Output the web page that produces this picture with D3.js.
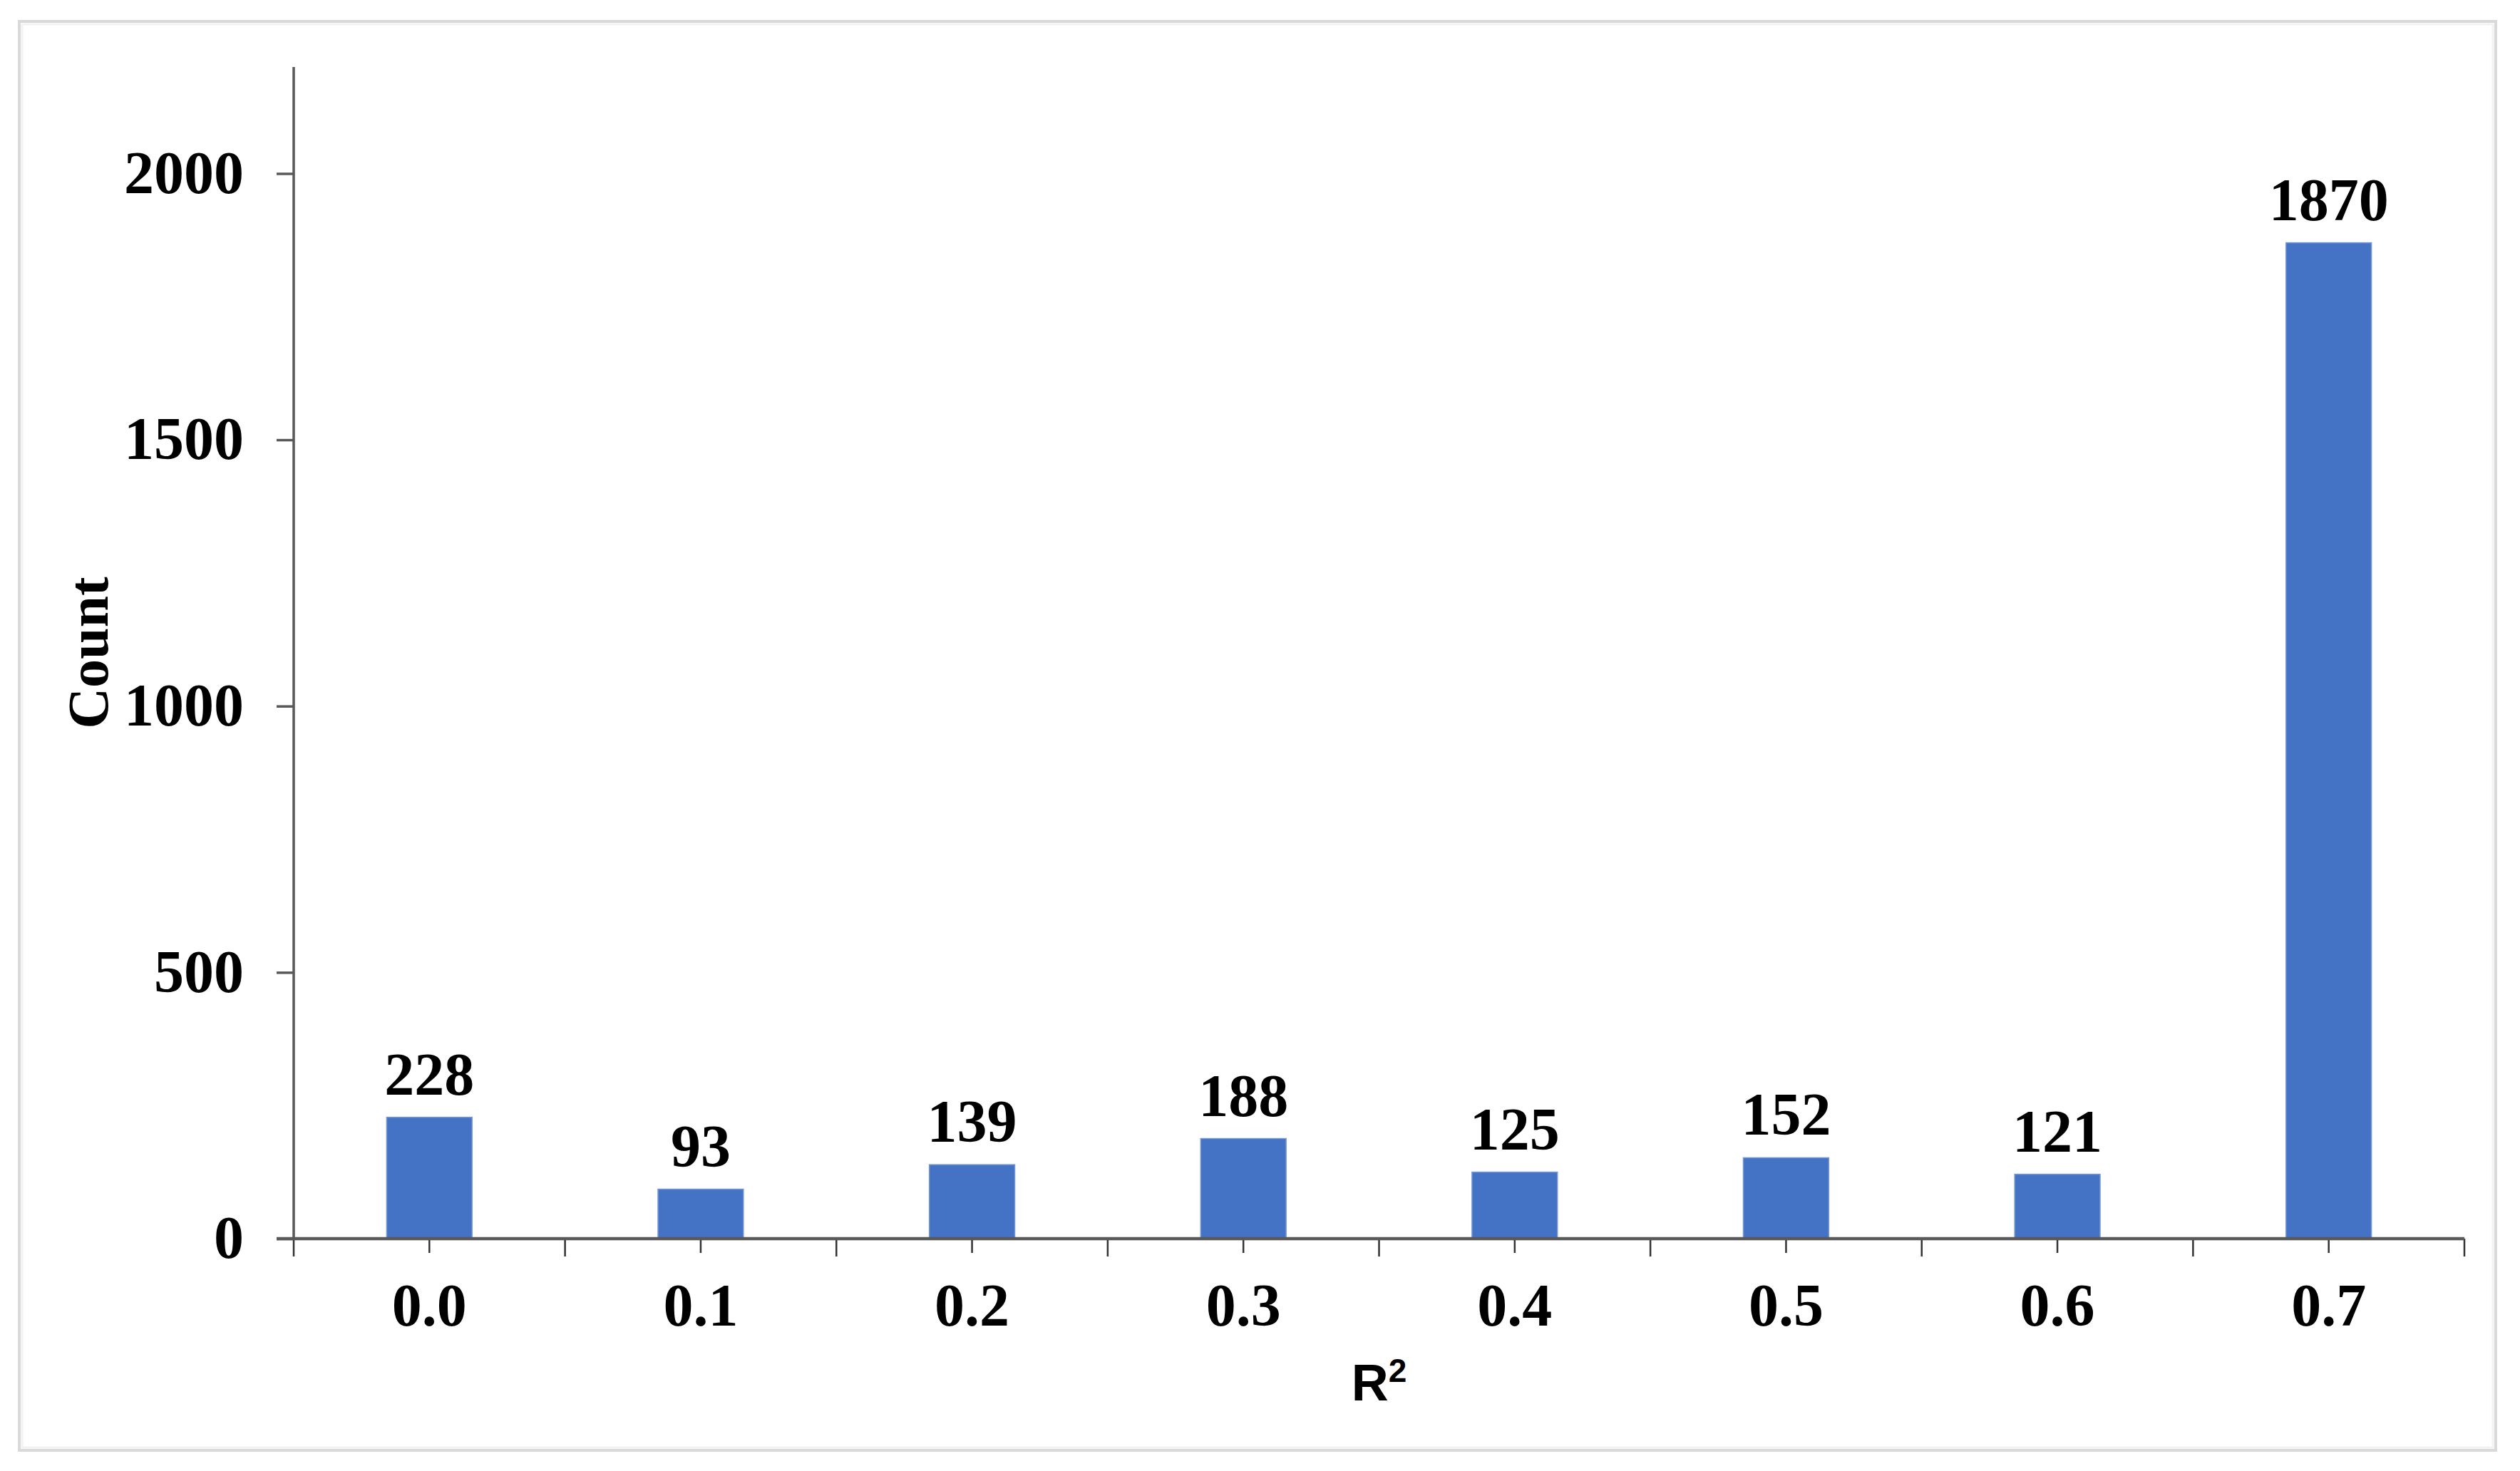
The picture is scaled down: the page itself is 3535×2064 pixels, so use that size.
<!DOCTYPE html>
<html>
<head>
<meta charset="utf-8">
<script src="https://cdn.jsdelivr.net/npm/d3@7"></script>
<style>
  html, body { margin: 0; padding: 0; background: #ffffff; }
  svg { display: block; }
</style>
</head>
<body>
<script>
const categories = ["0.0", "0.1", "0.2", "0.3", "0.4", "0.5", "0.6", "0.7"];
const counts = [228, 93, 139, 188, 125, 152, 121, 1870];
const yTickValues = [0, 500, 1000, 1500, 2000];
const yMax = 2200;
const xTitle = "R";
const xTitleSup = "2";
const yTitle = "Count";

(function () {
const W = 3535, H = 2064;
const plotLeft = 412, plotRight = 3457, plotTop = 94, plotBottom = 1738;
const serif = "'Liberation Serif', 'Times New Roman', serif";
const axisColor = "#595959";

const svg = d3.select("body").append("svg").attr("width", W).attr("height", H);

// outer frame
svg.append("rect").attr("x", 27).attr("y", 30).attr("width", 3474).attr("height", 2005)
  .attr("fill", "#fff").attr("stroke", "#d9d9d9").attr("stroke-width", 4);
svg.append("rect").attr("x", 31).attr("y", 34).attr("width", 3466).attr("height", 1997)
  .attr("fill", "none").attr("stroke", "#f2f2f2").attr("stroke-width", 3);

const xBand = d3.scaleBand().domain(categories).range([plotLeft, plotRight])
  .paddingInner(0.685).paddingOuter(0.3425);
const y = d3.scaleLinear().domain([0, yMax]).range([plotBottom, plotTop]);
const step = xBand.step();

// bars
svg.append("g").selectAll("rect").data(categories).join("rect")
  .attr("x", d => xBand(d))
  .attr("y", (d, i) => y(counts[i]))
  .attr("width", xBand.bandwidth())
  .attr("height", (d, i) => y(0) - y(counts[i]))
  .attr("fill", "#4472C4")
  .attr("stroke", "#7a9ad6").attr("stroke-width", 1.5);

// value labels
svg.append("g").selectAll("text").data(categories).join("text")
  .attr("x", d => xBand(d) + xBand.bandwidth() / 2)
  .attr("y", (d, i) => y(counts[i]) - 32)
  .attr("text-anchor", "middle")
  .attr("font-family", serif).attr("font-weight", "bold").attr("font-size", 84)
  .attr("fill", "#000")
  .text((d, i) => counts[i]);

// y axis
const yAxis = svg.append("g").attr("transform", `translate(${plotLeft},0)`)
  .call(d3.axisLeft(y).tickValues(yTickValues).tickFormat(d3.format("d"))
    .tickSize(24).tickSizeOuter(0).tickPadding(46));
yAxis.select(".domain").remove();
yAxis.selectAll(".tick line").attr("stroke", axisColor).attr("stroke-width", 3.5);
yAxis.selectAll(".tick text").attr("font-family", serif).attr("font-weight", "bold")
  .attr("font-size", 84).attr("fill", "#000");
svg.append("line").attr("x1", plotLeft).attr("x2", plotLeft).attr("y1", y(yMax)).attr("y2", y(0))
  .attr("stroke", axisColor).attr("stroke-width", 3.5);

// x axis
const xAxis = svg.append("g").attr("transform", `translate(0,${y(0)})`)
  .call(d3.axisBottom(xBand).tickSize(20).tickSizeOuter(0));
xAxis.select(".domain").remove();
xAxis.selectAll(".tick line").attr("stroke", "#333").attr("stroke-width", 2.5);
xAxis.selectAll(".tick text").attr("y", 122).attr("dy", 0)
  .attr("font-family", serif).attr("font-weight", "bold")
  .attr("font-size", 84).attr("fill", "#000");
// boundary ticks
const boundaries = d3.range(categories.length + 1).map(i => plotLeft + i * step);
svg.append("g").selectAll("line").data(boundaries).join("line")
  .attr("x1", d => d).attr("x2", d => d)
  .attr("y1", y(0)).attr("y2", y(0) + 25)
  .attr("stroke", "#333").attr("stroke-width", 2.5);
svg.append("line").attr("x1", plotLeft - 24).attr("x2", plotRight).attr("y1", y(0)).attr("y2", y(0))
  .attr("stroke", axisColor).attr("stroke-width", 4.5);

// axis titles
const xt = svg.append("text")
  .attr("x", (plotLeft + plotRight) / 2).attr("y", 1965)
  .attr("text-anchor", "middle")
  .attr("font-family", "'Liberation Sans', Arial, sans-serif").attr("font-weight", "bold")
  .attr("font-size", 72).attr("fill", "#000");
xt.append("tspan").text(xTitle);
xt.append("tspan").attr("font-size", 46).attr("dy", -26).text(xTitleSup);

svg.append("text")
  .attr("transform", `translate(124,${(plotTop + plotBottom) / 2}) rotate(-90)`)
  .attr("text-anchor", "middle").attr("dominant-baseline", "central")
  .attr("font-family", serif).attr("font-weight", "bold")
  .attr("font-size", 80).attr("fill", "#000")
  .text(yTitle);
})();
</script>
</body>
</html>
